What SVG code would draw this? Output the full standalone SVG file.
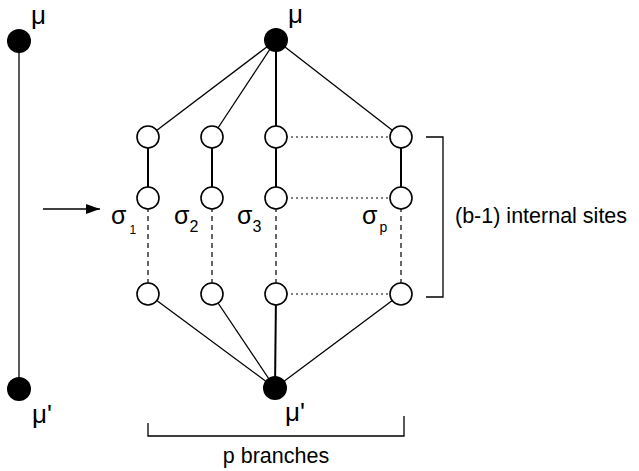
<svg xmlns="http://www.w3.org/2000/svg" width="639" height="471" viewBox="0 0 639 471">
<defs>
<style>
.s{stroke:#000;stroke-width:1.3;fill:none}
.b{stroke:#000;stroke-width:2;fill:none}
.dash{stroke:#000;stroke-width:1.2;stroke-dasharray:5,4;fill:none}
.dot{stroke:#000;stroke-width:1.2;stroke-dasharray:2,3;fill:none}
.open{fill:#fff;stroke:#000;stroke-width:1.6}
.full{fill:#000}
text{font-family:"Liberation Sans",Arial,sans-serif;fill:#000}
.lbl{font-size:21.5px}
.big{font-size:26px}
.sig{font-size:25px}
</style>
<marker id="ah" markerWidth="14" markerHeight="10" refX="14" refY="5" orient="auto" markerUnits="userSpaceOnUse">
<path d="M0,0 L14,5 L0,10 Z" fill="#000"/>
</marker>
</defs>
<g id="connectors">
<line class="s" x1="19" y1="41" x2="19" y2="389"/>
<line class="s" x1="43" y1="209" x2="100" y2="209" marker-end="url(#ah)"/>
<line class="s" x1="276" y1="40" x2="148" y2="137"/>
<line class="s" x1="276" y1="40" x2="212" y2="137"/>
<line class="b" x1="276" y1="40" x2="276" y2="137"/>
<line class="s" x1="276" y1="40" x2="401" y2="137"/>
<line class="b" x1="148" y1="137" x2="148" y2="198"/>
<line class="b" x1="212" y1="137" x2="212" y2="198"/>
<line class="b" x1="276" y1="137" x2="276" y2="198"/>
<line class="b" x1="401" y1="137" x2="401" y2="198"/>
<line class="dash" x1="148" y1="198" x2="148" y2="294"/>
<line class="dash" x1="212" y1="198" x2="212" y2="294"/>
<line class="dash" x1="276" y1="198" x2="276" y2="294"/>
<line class="dash" x1="401" y1="198" x2="401" y2="294"/>
<line class="dot" x1="276" y1="137" x2="401" y2="137"/>
<line class="dot" x1="276" y1="198" x2="401" y2="198"/>
<line class="dot" x1="276" y1="294" x2="401" y2="294"/>
<line class="s" x1="148" y1="294" x2="275" y2="388"/>
<line class="s" x1="212" y1="294" x2="275" y2="388"/>
<line class="b" x1="276" y1="294" x2="275" y2="388"/>
<line class="s" x1="401" y1="294" x2="275" y2="388"/>
<polyline class="s" points="426,137 443,137 443,297 426,297"/>
<polyline class="s" points="148,423 148,436 404,436 404,416"/>
</g>
<g id="left-top"><circle class="full" cx="19" cy="41" r="12"/><text class="big" x="31" y="24">μ</text></g>
<g id="left-bottom"><circle class="full" cx="19" cy="389" r="12"/><text class="big" x="32" y="423">μ'</text></g>
<g id="top"><circle class="full" cx="276" cy="40" r="12"/><text class="big" x="288" y="23">μ</text></g>
<g id="bottom"><circle class="full" cx="275" cy="388" r="12"/><text class="big" x="285" y="421">μ'</text></g>
<g id="n11"><circle class="open" cx="148" cy="137" r="11"/></g>
<g id="n12"><circle class="open" cx="148" cy="198" r="11"/></g>
<g id="n13"><circle class="open" cx="148" cy="294" r="11"/></g>
<g id="n21"><circle class="open" cx="212" cy="137" r="11"/></g>
<g id="n22"><circle class="open" cx="212" cy="198" r="11"/></g>
<g id="n23"><circle class="open" cx="212" cy="294" r="11"/></g>
<g id="n31"><circle class="open" cx="276" cy="137" r="11"/></g>
<g id="n32"><circle class="open" cx="276" cy="198" r="11"/></g>
<g id="n33"><circle class="open" cx="276" cy="294" r="11"/></g>
<g id="n41"><circle class="open" cx="401" cy="137" r="11"/></g>
<g id="n42"><circle class="open" cx="401" cy="198" r="11"/></g>
<g id="n43"><circle class="open" cx="401" cy="294" r="11"/></g>
<g id="labels">
<text class="sig" x="111" y="224">σ<tspan font-size="12" dx="3" dy="10">1</tspan></text>
<text class="sig" x="174" y="224">σ<tspan font-size="16" dy="8">2</tspan></text>
<text class="sig" x="237" y="224">σ<tspan font-size="16" dy="8">3</tspan></text>
<text class="sig" x="362" y="224">σ<tspan font-size="14" dx="2" dy="8">p</tspan></text>
<text class="lbl" x="455" y="223">(b-1) internal sites</text>
<text class="lbl" x="276" y="463" text-anchor="middle">p branches</text>
</g>
</svg>
